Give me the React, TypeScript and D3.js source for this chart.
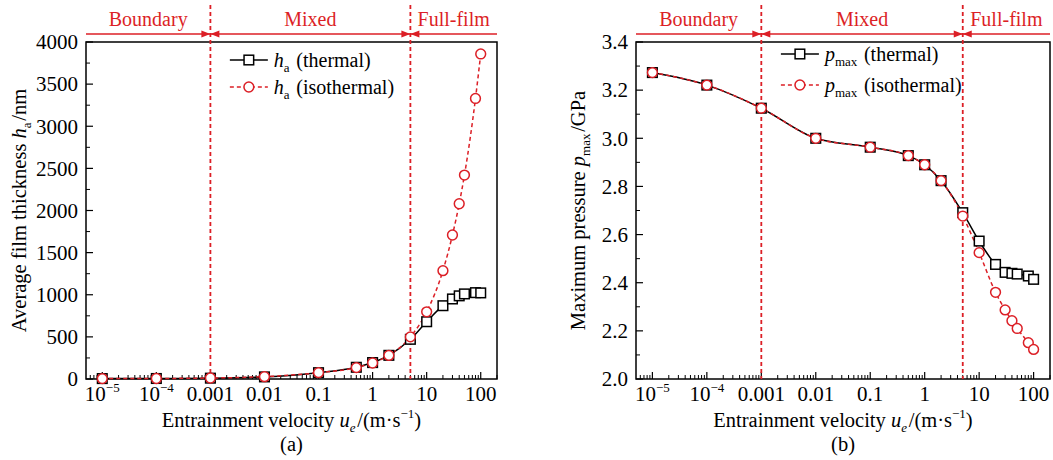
import * as d3 from "d3";

const W = 1053;
const H = 460;
const RED = "#dc1f26";
const FONT = "'Liberation Serif', 'Times New Roman', serif";

// entrainment velocity (m/s)
const velocity = [1e-5, 1e-4, 1e-3, 0.01, 0.1, 0.5, 1, 2, 5, 10, 20, 30, 40, 50, 80, 100];
// average film thickness (nm)
const haThermal = [5, 6, 10, 25, 75, 139, 195, 281, 471, 680, 870, 950, 987, 1010, 1025, 1022];
const haIsothermal = [5, 6, 12, 28, 75, 135, 190, 280, 500, 797, 1286, 1709, 2080, 2420, 3330, 3858];
// maximum pressure (GPa)
const pThermal = [3.273, 3.221, 3.125, 3.0, 2.963, 2.928, 2.89, 2.824, 2.691, 2.573, 2.476, 2.443, 2.439, 2.436, 2.428, 2.414];
const pIsothermal = [3.273, 3.221, 3.125, 3.0, 2.963, 2.928, 2.89, 2.824, 2.677, 2.525, 2.36, 2.287, 2.242, 2.21, 2.151, 2.123];

const regimeBounds = [0.001, 5];
const regimeNames = ["Boundary", "Mixed", "Full-film"];
const xTicks = [1e-5, 1e-4, 1e-3, 0.01, 0.1, 1, 10, 100];
const xTickLabels = ["10|−5", "10|−4", "0.001", "0.01", "0.1", "1", "10", "100"];

const haTicks = [0, 500, 1000, 1500, 2000, 2500, 3000, 3500, 4000];
const pTicks = [2.0, 2.2, 2.4, 2.6, 2.8, 3.0, 3.2, 3.4];

const TOP = 42;
const BOTTOM = 379;

function Sym({ s, sub, italicSub, size = 13, shift = 5 }: any) {
  return (
    <>
      <tspan fontStyle="italic">{s}</tspan>
      <tspan dy={shift} fontSize={size} fontStyle={italicSub ? "italic" : "normal"}>{sub}</tspan>
      <tspan dy={-shift}>{"\u200a"}</tspan>
    </>
  );
}

function Panel({ x0, x1, yDomain, yTicks, yFmt, minorStep, thermal, iso, sym, yLabelParts, legendY, letter, yLabelX }: any) {
  const x = d3.scaleLog().domain([5e-6, 200]).range([x0, x1]);
  const y = d3.scaleLinear().domain(yDomain).range([BOTTOM, TOP]);
  const line = d3
    .line<number>()
    .x((_, i) => x(velocity[i]))
    .y((d) => y(d))
    .curve(d3.curveMonotoneX);

  const minorX: number[] = [];
  for (let e = -6; e <= 2; e++) {
    for (let k = 2; k <= 9; k++) {
      const v = k * Math.pow(10, e);
      if (v >= 5e-6 && v <= 200) minorX.push(v);
    }
  }
  const minorY = d3.range(yDomain[0] + minorStep, yDomain[1], minorStep * 2);

  const bx = regimeBounds.map((b) => x(b));
  const edges = [x0, ...bx, x1];
  const arrowY = 34;
  const cx = (x0 + x1) / 2;

  const square = (px: number, py: number, k: string) => (
    <rect key={k} x={px - 4.8} y={py - 4.8} width={9.6} height={9.6} fill="white" stroke="black" strokeWidth={1.5} />
  );
  const circle = (px: number, py: number, k: string) => (
    <circle key={k} cx={px} cy={py} r={4.9} fill="white" stroke={RED} strokeWidth={1.5} />
  );

  const lx = x0 + (x1 - x0) * 0.35;

  return (
    <g fontFamily={FONT}>
      {/* regime annotation */}
      <line x1={x0} x2={x1} y1={arrowY} y2={arrowY} stroke={RED} strokeWidth={1.6} />
      {bx.map((b, i) => (
        <g key={i} fill={RED}>
          <path d={`M${b},${arrowY} L${b - 9},${arrowY - 3.5} L${b - 9},${arrowY + 3.5} Z`} />
          <path d={`M${b},${arrowY} L${b + 9},${arrowY - 3.5} L${b + 9},${arrowY + 3.5} Z`} />
        </g>
      ))}
      {regimeNames.map((n, i) => (
        <text key={n} x={(edges[i] + edges[i + 1]) / 2} y={26} textAnchor="middle" fontSize={20} fill={RED}>
          {n}
        </text>
      ))}

      {/* frame */}
      <rect x={x0} y={TOP} width={x1 - x0} height={BOTTOM - TOP} fill="none" stroke="black" strokeWidth={1.5} />

      {/* x ticks */}
      {xTicks.map((t, i) => {
        const [a, b] = xTickLabels[i].split("|");
        return (
          <g key={t}>
            <line x1={x(t)} x2={x(t)} y1={BOTTOM} y2={BOTTOM - 7} stroke="black" strokeWidth={1.2} />
            <text x={x(t)} y={401} textAnchor="middle" fontSize={21}>
              {a}
              {b && (
                <tspan dy={-9} fontSize={13}>
                  {b}
                </tspan>
              )}
            </text>
          </g>
        );
      })}
      {minorX.map((t) => (
        <line key={t} x1={x(t)} x2={x(t)} y1={BOTTOM} y2={BOTTOM - 4} stroke="black" strokeWidth={1} />
      ))}

      {/* y ticks */}
      {yTicks.map((t: number) => (
        <g key={t}>
          <line x1={x0} x2={x0 + 7} y1={y(t)} y2={y(t)} stroke="black" strokeWidth={1.2} />
          <text x={x0 - 8} y={y(t)} dy="0.35em" textAnchor="end" fontSize={21}>
            {yFmt(t)}
          </text>
        </g>
      ))}
      {minorY.map((t: number) => (
        <line key={t} x1={x0} x2={x0 + 4} y1={y(t)} y2={y(t)} stroke="black" strokeWidth={1} />
      ))}

      {/* regime dividers */}
      {bx.map((b, i) => (
        <line key={i} x1={b} x2={b} y1={5} y2={BOTTOM} stroke={RED} strokeWidth={1.8} strokeDasharray="4,3" />
      ))}

      {/* series */}
      <path d={line(thermal) || ""} fill="none" stroke="black" strokeWidth={1.5} />
      <path d={line(iso) || ""} fill="none" stroke={RED} strokeWidth={1.5} strokeDasharray="4,3" />
      {thermal.map((v: number, i: number) => square(x(velocity[i]), y(v), "s" + i))}
      {iso.map((v: number, i: number) => circle(x(velocity[i]), y(v), "c" + i))}

      {/* legend */}
      <line x1={lx} x2={lx + 38} y1={legendY[0]} y2={legendY[0]} stroke="black" strokeWidth={1.5} />
      {square(lx + 19, legendY[0], "ls")}
      <text x={lx + 44} y={legendY[0]} dy="0.35em" fontSize={20}>
        <Sym s={sym[0]} sub={sym[1]} /> (thermal)
      </text>
      <line x1={lx} x2={lx + 38} y1={legendY[1]} y2={legendY[1]} stroke={RED} strokeWidth={1.5} strokeDasharray="4,3" />
      {circle(lx + 19, legendY[1], "lc")}
      <text x={lx + 44} y={legendY[1]} dy="0.35em" fontSize={20}>
        <Sym s={sym[0]} sub={sym[1]} /> (isothermal)
      </text>

      {/* axis titles */}
      <text x={cx} y={427} textAnchor="middle" fontSize={20.5}>
        Entrainment velocity <Sym s="u" sub="e" italicSub />/(m·s
        <tspan dy={-9} fontSize={13}>−1</tspan>
        <tspan dy={9}>)</tspan>
      </text>
      <text x={cx} y={451} textAnchor="middle" fontSize={20.5}>
        ({letter})
      </text>
      <text transform={`translate(${yLabelX},${(TOP + BOTTOM) / 2}) rotate(-90)`} textAnchor="middle" fontSize={20.5}>
        {yLabelParts[0]}
        <Sym s={sym[0]} sub={sym[1]} />
        {yLabelParts[1]}
      </text>
    </g>
  );
}

export default function App() {
  return (
    <div style={{ position: "absolute", left: 0, top: 0, background: "white" }}>
      <svg width={W} height={H} style={{ display: "block" }}>
        <rect width={W} height={H} fill="white" />
        <Panel
          x0={86}
          x1={497}
          yDomain={[0, 4000]}
          yTicks={haTicks}
          yFmt={(t: number) => String(t)}
          minorStep={250}
          thermal={haThermal}
          iso={haIsothermal}
          sym={["h", "a"]}
          yLabelParts={["Average film thickness ", "/nm"]}
          legendY={[60, 87]}
          letter="a"
          yLabelX={26}
        />
        <Panel
          x0={636}
          x1={1050}
          yDomain={[2.0, 3.4]}
          yTicks={pTicks}
          yFmt={(t: number) => t.toFixed(1)}
          minorStep={0.1}
          thermal={pThermal}
          iso={pIsothermal}
          sym={["p", "max"]}
          yLabelParts={["Maximum pressure ", "/GPa"]}
          legendY={[54, 85]}
          letter="b"
          yLabelX={585}
        />
      </svg>
    </div>
  );
}
